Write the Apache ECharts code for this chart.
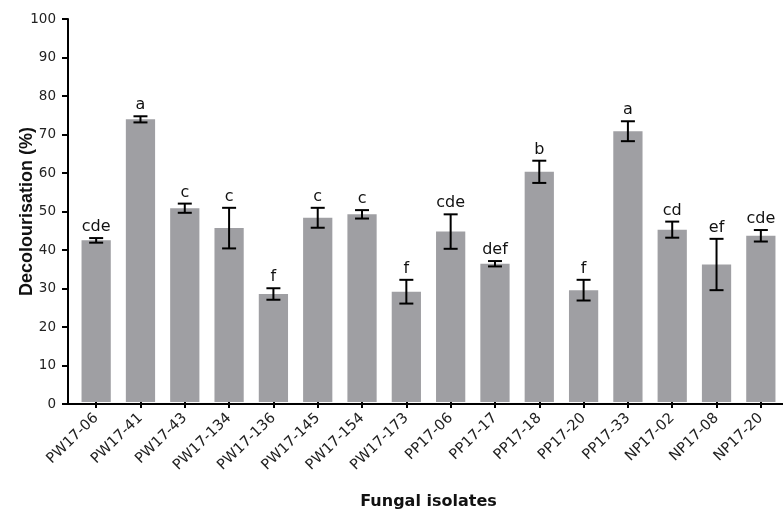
<!DOCTYPE html>
<html>
<head>
<meta charset="utf-8">
<script src="https://cdn.jsdelivr.net/npm/echarts@6/dist/echarts.min.js"></script>
<style>
html,body{margin:0;padding:0;background:#fff;}
#chart{width:783px;height:515px;}
</style>
</head>
<body>
<div id="chart"></div>
<script>
var categories = ['PW17-06','PW17-41','PW17-43','PW17-134','PW17-136','PW17-145','PW17-154','PW17-173','PP17-06','PP17-17','PP17-18','PP17-20','PP17-33','NP17-02','NP17-08','NP17-20'];
var meanValues = [42.2, 73.8, 50.6, 45.4, 28.2, 48.1, 49.0, 28.8, 44.5, 36.1, 60.1, 29.2, 70.7, 45.0, 35.9, 43.4];
var errValues  = [0.6, 0.8, 1.2, 5.3, 1.5, 2.6, 1.1, 3.1, 4.5, 0.7, 2.9, 2.7, 2.6, 2.1, 6.7, 1.5];
var groupLetters = ['cde','a','c','c','f','c','c','f','cde','def','b','f','a','cd','ef','cde'];
var yTicks = [0,10,20,30,40,50,60,70,80,90,100];

var errData = categories.map(function(c, i){ return [i, meanValues[i], errValues[i]]; });

var chart = echarts.init(document.getElementById('chart'), null, {renderer:'canvas'});
var option = {
  animation: false,
  backgroundColor: '#ffffff',
  grid: [
    {left: 68, right: -3, top: 19, bottom: 111, containLabel: false},
    {left: 74, right: -3, top: 19, bottom: 111, containLabel: false}
  ],
  xAxis: [
    {
      gridIndex: 0, type: 'value', min: 0, max: 1,
      axisLine: {show: true, lineStyle: {color: '#000', width: 2}},
      axisTick: {show: false}, axisLabel: {show: false}, splitLine: {show: false}
    },
    {
      gridIndex: 1,
      type: 'category',
      data: categories,
      name: 'Fungal isolates',
      nameLocation: 'middle',
      nameGap: 92,
      nameMoveOverlap: false,
      nameTextStyle: {fontFamily: 'DejaVu Sans', fontWeight: 'bold', fontSize: 16, color: '#111'},
      axisLine: {show: false},
      axisTick: {show: true, alignWithLabel: true, length: 6, lineStyle: {color: '#000', width: 2}},
      axisLabel: {rotate: 44, margin: 14, fontFamily: 'DejaVu Sans', fontSize: 14.5, color: '#222', interval: 0}
    }
  ],
  yAxis: [
    {
      gridIndex: 0,
      type: 'value',
      min: 0, max: 100, interval: 10,
      name: 'Decolourisation (%)',
      nameLocation: 'middle',
      nameGap: 32,
      nameMoveOverlap: false,
      nameTextStyle: {fontFamily: 'Liberation Sans', fontWeight: 'bold', fontSize: 18, color: '#111'},
      axisLine: {show: true, lineStyle: {color: '#000', width: 2}},
      axisTick: {show: true, length: 6, lineStyle: {color: '#000', width: 2}},
      axisLabel: {margin: 12, fontFamily: 'DejaVu Sans', fontSize: 13.5, color: '#222',
        formatter: function(v){ return yTicks.indexOf(v) >= 0 ? String(v) : ''; }},
      splitLine: {show: false}
    },
    {
      gridIndex: 1, type: 'value', min: 0, max: 100, interval: 10, show: false
    }
  ],
  series: [
    {
      type: 'bar',
      xAxisIndex: 1, yAxisIndex: 1,
      data: meanValues,
      barCategoryGap: '34%',
      itemStyle: {color: '#9f9fa3'},
      z: 2
    },
    {
      type: 'custom',
      xAxisIndex: 1, yAxisIndex: 1,
      data: errData,
      z: 5,
      renderItem: function(params, api){
        var i = api.value(0), m = api.value(1), e = api.value(2);
        var top = api.coord([i, m + e]);
        var bot = api.coord([i, m - e]);
        var x = top[0], hw = 7;
        var ls = {stroke: '#000', lineWidth: 2};
        return {
          type: 'group',
          children: [
            {type: 'line', shape: {x1: x, y1: top[1], x2: x, y2: bot[1]}, style: ls},
            {type: 'line', shape: {x1: x - hw, y1: top[1], x2: x + hw, y2: top[1]}, style: ls},
            {type: 'line', shape: {x1: x - hw, y1: bot[1], x2: x + hw, y2: bot[1]}, style: ls},
            {type: 'text', style: {text: groupLetters[i], x: x, y: top[1] - 3, textAlign: 'center', textVerticalAlign: 'bottom',
              fontFamily: 'DejaVu Sans', fontSize: 16, fill: '#111'}}
          ]
        };
      }
    }
  ]
};
chart.setOption(option);
</script>
</body>
</html>
